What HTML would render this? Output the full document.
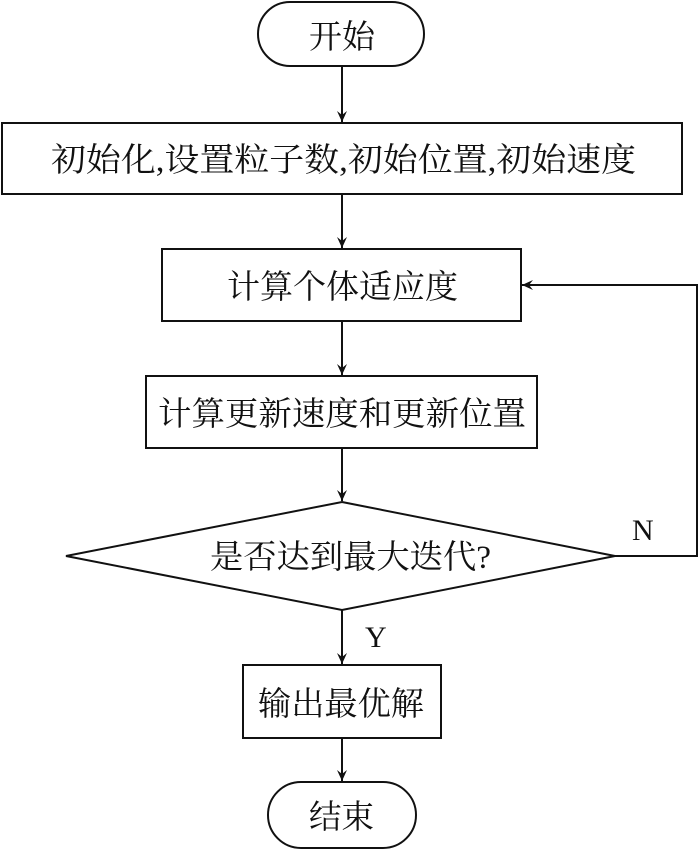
<!DOCTYPE html>
<html><head><meta charset="utf-8"><style>
html,body{margin:0;padding:0;background:#fff;}
svg{display:block;}
text{font-family:"Liberation Serif","Noto Serif CJK SC",serif;font-size:33px;fill:#111;}
</style></head><body>
<svg width="700" height="850" viewBox="0 0 700 850" xmlns="http://www.w3.org/2000/svg">
<defs>
<marker id="a" markerWidth="12" markerHeight="12" refX="11" refY="6" orient="auto" markerUnits="userSpaceOnUse">
<path d="M0,1 L11,6 L0,11 L4,6 Z" fill="#111"/>
</marker>
</defs>
<g stroke="#111" stroke-width="2" fill="none">
<rect x="258" y="2" width="166" height="64" rx="32" ry="32"/>
<rect x="2" y="123" width="680" height="71"/>
<rect x="162" y="249" width="359" height="72"/>
<rect x="146" y="376" width="391" height="72"/>
<polygon points="342,502 615,556 342,610 66,556"/>
<rect x="243" y="665" width="198" height="73"/>
<rect x="268" y="782" width="148" height="66" rx="33" ry="33"/>
<line x1="342" y1="66" x2="342" y2="122" marker-end="url(#a)"/>
<line x1="342" y1="194" x2="342" y2="248" marker-end="url(#a)"/>
<line x1="342" y1="321" x2="342" y2="375" marker-end="url(#a)"/>
<line x1="342" y1="448" x2="342" y2="501" marker-end="url(#a)"/>
<line x1="342" y1="610" x2="342" y2="664" marker-end="url(#a)"/>
<line x1="342" y1="738" x2="342" y2="781" marker-end="url(#a)"/>
<polyline points="615,556 697,556 697,285 522,285" marker-end="url(#a)"/>
</g>
<text x="309" y="48" textLength="66" lengthAdjust="spacingAndGlyphs">开始</text>
<text x="51" y="171" textLength="585" lengthAdjust="spacingAndGlyphs">初始化,设置粒子数,初始位置,初始速度</text>
<text x="227" y="298" textLength="231" lengthAdjust="spacingAndGlyphs">计算个体适应度</text>
<text x="158" y="425" textLength="368" lengthAdjust="spacingAndGlyphs">计算更新速度和更新位置</text>
<text x="210" y="568" textLength="281" lengthAdjust="spacingAndGlyphs">是否达到最大迭代?</text>
<text x="258" y="715" textLength="166" lengthAdjust="spacingAndGlyphs">输出最优解</text>
<text x="309" y="828" textLength="65" lengthAdjust="spacingAndGlyphs">结束</text>
<text x="632" y="540" style="font-size:30px">N</text>
<text x="365" y="647" style="font-size:30px">Y</text>
</svg>
</body></html>
